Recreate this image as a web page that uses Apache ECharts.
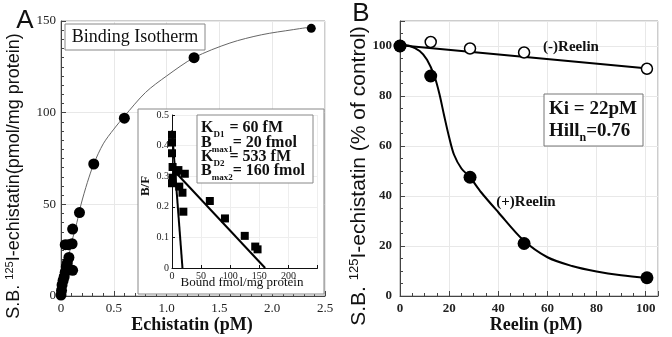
<!DOCTYPE html>
<html>
<head>
<meta charset="utf-8">
<script src="https://cdn.jsdelivr.net/npm/echarts@6/dist/echarts.min.js"></script>
<style>
  html, body { margin: 0; padding: 0; background: #fff; }
  #chart { width: 672px; height: 337px; }
</style>
</head>
<body>
<div id="chart"></div>
<script>
// Panel A: binding isotherm (Echistatin pM vs S.B.)
var isoX = [0, 0.005, 0.01, 0.02, 0.03, 0.04, 0.05, 0.06, 0.075, 0.11, 0.04, 0.07, 0.105, 0.11, 0.175, 0.31, 0.6, 1.26, 2.37];
var isoY = [0.5, 3, 6, 8.5, 10.5, 13, 16, 18, 21, 14, 28, 28, 28.5, 36.5, 45.5, 72, 97, 130, 146];
var isoFitX = [0, 0.05, 0.1, 0.15, 0.19, 0.25, 0.31, 0.4, 0.5, 0.6, 0.8, 1.0, 1.26, 1.6, 1.9, 2.2, 2.4];
var isoFitY = [0, 15, 29, 40, 50, 62, 72, 83, 91, 98, 111, 120, 130, 138, 142.5, 145.3, 147];

// inset: Scatchard plot (Bound fmol/mg protein vs B/F)
var scatBound = [0, 0, 0, 1, 1, 0, 8, 11, 12.5, 18, 22, 19.5, 65, 91, 125, 143, 147];
var scatBF = [0.435, 0.41, 0.375, 0.33, 0.295, 0.277, 0.315, 0.32, 0.266, 0.246, 0.308, 0.184, 0.219, 0.162, 0.105, 0.07, 0.061];
var site1X = [0, 18];
var site1Y = [0.45, 0];
var site2X = [0, 160];
var site2Y = [0.325, 0];

// Panel B: Reelin competition
var reelinConc = [0, 12.5, 28.5, 50.5, 100.5];
var plusReelin = [100, 88, 47.5, 21, 7.3];
var minusReelin = [100, 101.6, 99, 97.4, 90.9];
var plusFitX = [0, 4, 8, 11, 14, 16, 18, 20, 22, 25, 28.5, 33, 40, 50, 60, 70, 80, 90, 101];
var plusFitY = [100.5, 100, 98, 94.5, 88, 81, 72, 63.5, 56.5, 51, 47.5, 41.5, 33.5, 22.5, 15.5, 12, 9.8, 8.3, 7.2];
var minusFitX = [0, 101];
var minusFitY = [100.3, 91];

// tick labels
var echTicks = ['0', '0.5', '1.0', '1.5', '2.0', '2.5'];
var sbTicks = ['0', '50', '100', '150'];
var boundTicks = ['0', '50', '100', '150', '200'];
var bfTicks = ['0', '0.1', '0.2', '0.3', '0.4', '0.5'];
var reelinTicks = ['0', '20', '40', '60', '80', '100'];
var pctTicks = ['0', '20', '40', '60', '80', '100'];

var SERIF = '"Liberation Serif", "Times New Roman", serif';
var SANS = '"Liberation Sans", Arial, sans-serif';

function pairs(xs, ys) {
  return xs.map(function (x, i) { return [x, ys[i]]; });
}
function fromList(list) {
  return function (v, i) { return list[i] !== undefined ? list[i] : ''; };
}

var dom = document.getElementById('chart');
var myChart = echarts.init(dom, null, { renderer: 'canvas' });

var tickStyle = { color: '#444' };

var option = {
  animation: false,
  grid: [
    { left: 61, top: 21, width: 264, height: 275, show: true, borderColor: '#9a9a9a', borderWidth: 1, containLabel: false, outerBoundsMode: 'none' },
    { left: 172, top: 115, width: 145.5, height: 153, show: false, containLabel: false, outerBoundsMode: 'none' },
    { left: 400, top: 21, width: 258, height: 275, show: true, borderColor: '#9a9a9a', borderWidth: 1, containLabel: false, outerBoundsMode: 'none' }
  ],
  xAxis: [
    {
      gridIndex: 0, type: 'value', min: 0, max: 2.5, interval: 0.5,
      axisLine: { lineStyle: { color: '#444' } },
      axisTick: { inside: true, length: 5, lineStyle: tickStyle },
      minorTick: { show: true, splitNumber: 5, length: 3, lineStyle: tickStyle },
      axisLabel: { margin: 6, fontFamily: SERIF, fontSize: 13, color: '#222', formatter: fromList(echTicks) },
      splitLine: { show: true, lineStyle: { color: '#e8e8e8' } }
    },
    {
      gridIndex: 1, type: 'value', min: 0, max: 250, interval: 50, z: 6,
      axisLine: { lineStyle: { color: '#111' } },
      axisTick: { inside: true, length: 3, lineStyle: { color: '#111' } },
      axisLabel: { margin: 3, fontFamily: SERIF, fontSize: 10, color: '#222', formatter: fromList(boundTicks) },
      splitLine: { show: true, lineStyle: { color: '#eeeeee' } }
    },
    {
      gridIndex: 2, type: 'value', min: 0, max: 105, interval: 20,
      axisLine: { lineStyle: { color: '#444' } },
      axisTick: { inside: true, length: 5, lineStyle: tickStyle },
      axisLabel: { margin: 6, fontFamily: SERIF, fontWeight: 'bold', fontSize: 13, color: '#222', formatter: fromList(reelinTicks) },
      splitLine: { show: true, lineStyle: { color: '#e8e8e8' } }
    },
    {
      gridIndex: 2, type: 'value', position: 'bottom', min: 0, max: 105, interval: 5,
      axisLine: { show: false },
      axisTick: { inside: true, length: 3, lineStyle: tickStyle },
      axisLabel: { show: false },
      splitLine: { show: false }
    }
  ],
  yAxis: [
    {
      gridIndex: 0, type: 'value', min: 0, max: 150, interval: 50,
      axisLine: { lineStyle: { color: '#444' } },
      axisTick: { inside: true, length: 5, lineStyle: tickStyle },
      minorTick: { show: true, splitNumber: 10, length: 3, lineStyle: tickStyle },
      axisLabel: { margin: 5, fontFamily: SERIF, fontSize: 13, color: '#222', formatter: fromList(sbTicks) },
      splitLine: { show: true, lineStyle: { color: '#e8e8e8' } }
    },
    {
      gridIndex: 1, type: 'value', min: 0, max: 0.5, interval: 0.1, z: 6,
      axisLine: { lineStyle: { color: '#111' } },
      axisTick: { inside: true, length: 3, lineStyle: { color: '#111' } },
      axisLabel: { margin: 3, fontFamily: SERIF, fontSize: 10, color: '#222', formatter: fromList(bfTicks) },
      splitLine: { show: true, lineStyle: { color: '#eeeeee' } }
    },
    {
      gridIndex: 2, type: 'value', min: 0, max: 110, interval: 20,
      axisLine: { lineStyle: { color: '#444' } },
      axisTick: { inside: true, length: 5, lineStyle: tickStyle },
      axisLabel: { margin: 8, fontFamily: SERIF, fontWeight: 'bold', fontSize: 13, color: '#222', formatter: fromList(pctTicks) },
      splitLine: { show: true, lineStyle: { color: '#e8e8e8' } }
    },
    {
      gridIndex: 2, type: 'value', position: 'left', min: 0, max: 110, interval: 5,
      axisLine: { show: false },
      axisTick: { inside: true, length: 3, lineStyle: tickStyle },
      axisLabel: { show: false },
      splitLine: { show: false }
    }
  ],
  series: [
    {
      type: 'line', xAxisIndex: 0, yAxisIndex: 0, data: pairs(isoFitX, isoFitY),
      showSymbol: false, smooth: 0.3, lineStyle: { color: '#666', width: 1 }, z: 1
    },
    {
      type: 'scatter', xAxisIndex: 0, yAxisIndex: 0, data: pairs(isoX, isoY), clip: false,
      symbolSize: function (v, p) { return p.dataIndex === isoX.length - 1 ? 9 : 11; },
      itemStyle: { color: '#000', opacity: 1 }
    },
    {
      type: 'line', xAxisIndex: 1, yAxisIndex: 1, data: pairs(site1X, site1Y),
      showSymbol: false, lineStyle: { color: '#000', width: 2 }, z: 7
    },
    {
      type: 'line', xAxisIndex: 1, yAxisIndex: 1, data: pairs(site2X, site2Y),
      showSymbol: false, lineStyle: { color: '#000', width: 2 }, z: 7
    },
    {
      type: 'scatter', xAxisIndex: 1, yAxisIndex: 1, data: pairs(scatBound, scatBF), clip: false,
      symbol: 'rect', symbolSize: 8, itemStyle: { color: '#000', opacity: 1 }, z: 8
    },
    {
      type: 'line', xAxisIndex: 2, yAxisIndex: 2, data: pairs(minusFitX, minusFitY),
      showSymbol: false, lineStyle: { color: '#000', width: 2 }
    },
    {
      type: 'line', xAxisIndex: 2, yAxisIndex: 2, data: pairs(plusFitX, plusFitY),
      showSymbol: false, smooth: 0.3, lineStyle: { color: '#000', width: 2 }
    },
    {
      type: 'scatter', xAxisIndex: 2, yAxisIndex: 2, data: pairs(reelinConc, minusReelin), clip: false,
      symbolSize: 11, itemStyle: { color: '#fff', borderColor: '#000', borderWidth: 1.5, opacity: 1 }, z: 3
    },
    {
      type: 'scatter', xAxisIndex: 2, yAxisIndex: 2, data: pairs(reelinConc, plusReelin), clip: false,
      symbolSize: 13, itemStyle: { color: '#000', opacity: 1 }, z: 4
    }
  ],
  graphic: [
    // panel letters
    { type: 'text', x: 25, y: 21, z: 10, style: { text: 'A', font: '26px ' + SANS, fill: '#111', align: 'center', verticalAlign: 'middle' } },
    { type: 'text', x: 361, y: 14, z: 10, style: { text: 'B', font: '26px ' + SANS, fill: '#111', align: 'center', verticalAlign: 'middle' } },
    // Binding isotherm box
    { type: 'rect', z: 10, shape: { x: 65, y: 24, width: 140, height: 26 }, style: { fill: '#fff', stroke: '#888', lineWidth: 1 } },
    { type: 'text', x: 135, y: 37, z: 11, style: { text: 'Binding Isotherm', font: '18px ' + SERIF, fill: '#111', align: 'center', verticalAlign: 'middle' } },
    // inset background
    { type: 'rect', z: 5, shape: { x: 138, y: 109, width: 186, height: 185 }, style: { fill: '#fff', stroke: '#888', lineWidth: 1 } },
    { type: 'text', x: 146, y: 186, z: 10, rotation: Math.PI / 2, style: { text: 'B/F', font: 'bold 13px ' + SERIF, fill: '#111', align: 'center', verticalAlign: 'middle' } },
    { type: 'text', x: 242, y: 283, z: 10, style: { text: 'Bound fmol/mg protein', font: '13px ' + SERIF, fill: '#111', align: 'center', verticalAlign: 'middle' } },
    // inset legend
    { type: 'rect', z: 9, shape: { x: 197, y: 115, width: 116, height: 68 }, style: { fill: '#fff', stroke: '#888', lineWidth: 1 } },
    {
      type: 'group', z: 10,
      children: [
        ['{m|K}{sk|D1}{m|= 60 fM}', 120],
        ['{m|B}{sb|max1}{m|= 20 fmol}', 135],
        ['{m|K}{sk|D2}{m|= 533 fM}', 149],
        ['{m|B}{sb|max2}{m|= 160 fmol}', 163]
      ].map(function (row) {
        return {
          type: 'text', x: 201, y: row[1], z: 10,
          style: {
            text: row[0], align: 'left', verticalAlign: 'top', fill: '#111',
            rich: {
              m: { fontFamily: SERIF, fontWeight: 'bold', fontSize: 16, lineHeight: 16, verticalAlign: 'top' },
              sk: { fontFamily: SERIF, fontWeight: 'bold', fontSize: 9, lineHeight: 19, verticalAlign: 'bottom', width: 16 },
              sb: { fontFamily: SERIF, fontWeight: 'bold', fontSize: 9, lineHeight: 19, verticalAlign: 'bottom', width: 21 }
            }
          }
        };
      })
    },
    // axis titles
    {
      type: 'text', x: 14, y: 176, z: 10, rotation: Math.PI / 2,
      style: {
        text: '{n|S.B. }{p|125}{n|I-echistatin(pmol/mg protein)}', align: 'center', verticalAlign: 'middle', fill: '#111',
        rich: {
          n: { fontFamily: SANS, fontSize: 18, lineHeight: 19, verticalAlign: 'bottom' },
          p: { fontFamily: SANS, fontSize: 11, lineHeight: 19, verticalAlign: 'top' }
        }
      }
    },
    { type: 'text', x: 192, y: 325, z: 10, style: { text: 'Echistatin (pM)', font: 'bold 18px ' + SERIF, fill: '#111', align: 'center', verticalAlign: 'middle' } },
    {
      type: 'text', x: 359, y: 176, z: 10, rotation: Math.PI / 2,
      style: {
        text: '{n|S.B. }{p|125}{n|I-echistatin (% of control)}', align: 'center', verticalAlign: 'middle', fill: '#111',
        rich: {
          n: { fontFamily: SANS, fontSize: 21, lineHeight: 22, verticalAlign: 'bottom' },
          p: { fontFamily: SANS, fontSize: 13, lineHeight: 22, verticalAlign: 'top' }
        }
      }
    },
    { type: 'text', x: 536, y: 325, z: 10, style: { text: 'Reelin (pM)', font: 'bold 18px ' + SERIF, fill: '#111', align: 'center', verticalAlign: 'middle' } },
    // panel B annotations
    { type: 'text', x: 571, y: 47, z: 10, style: { text: '(-)Reelin', font: 'bold 15px ' + SERIF, fill: '#111', align: 'center', verticalAlign: 'middle' } },
    { type: 'text', x: 526, y: 202, z: 10, style: { text: '(+)Reelin', font: 'bold 15px ' + SERIF, fill: '#111', align: 'center', verticalAlign: 'middle' } },
    { type: 'rect', z: 9, shape: { x: 544, y: 94, width: 99, height: 52 }, style: { fill: '#fff', stroke: '#777', lineWidth: 1 } },
    { type: 'text', x: 549, y: 109, z: 10, style: { text: 'Ki = 22pM', font: 'bold 19px ' + SERIF, fill: '#111', align: 'left', verticalAlign: 'middle' } },
    {
      type: 'text', x: 549, y: 122, z: 10,
      style: {
        text: '{h|Hill}{s|n}{h|=0.76}', align: 'left', verticalAlign: 'top', fill: '#111',
        rich: {
          h: { fontFamily: SERIF, fontWeight: 'bold', fontSize: 19, lineHeight: 20, verticalAlign: 'top' },
          s: { fontFamily: SERIF, fontWeight: 'bold', fontSize: 12, lineHeight: 22, verticalAlign: 'bottom' }
        }
      }
    }
  ]
};

myChart.setOption(option);
window.addEventListener('resize', myChart.resize);
</script>
</body>
</html>
